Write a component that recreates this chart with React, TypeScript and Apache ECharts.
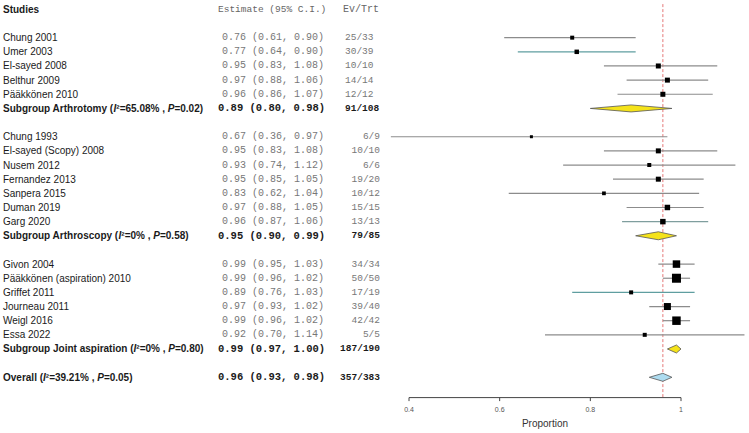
import React, { useEffect, useRef } from "react";
import * as echarts from "echarts";

// ---------- data ----------
const studyNames = [
  "Chung 2001", "Umer 2003", "El-sayed 2008", "Belthur 2009", "Pääkkönen 2010",
  "Chung 1993", "El-sayed (Scopy) 2008", "Nusem 2012", "Fernandez 2013", "Sanpera 2015", "Duman 2019", "Garg 2020",
  "Givon 2004", "Pääkkönen (aspiration) 2010", "Griffet 2011", "Journeau 2011", "Weigl 2016", "Essa 2022",
];
const studyGroup = [0, 0, 0, 0, 0, 1, 1, 1, 1, 1, 1, 1, 2, 2, 2, 2, 2, 2];
const studyEst = [0.76, 0.77, 0.95, 0.97, 0.96, 0.67, 0.95, 0.93, 0.95, 0.83, 0.97, 0.96, 0.99, 0.99, 0.89, 0.97, 0.99, 0.92];
const studyLo = [0.61, 0.64, 0.83, 0.88, 0.86, 0.36, 0.83, 0.74, 0.85, 0.62, 0.88, 0.87, 0.95, 0.96, 0.76, 0.93, 0.96, 0.70];
const studyHi = [0.90, 0.90, 1.08, 1.06, 1.07, 0.97, 1.08, 1.12, 1.05, 1.04, 1.05, 1.06, 1.03, 1.02, 1.03, 1.02, 1.02, 1.14];
const studyEvTrt = ["25/33", "30/39", "10/10", "14/14", "12/12", "6/9", "10/10", "6/6", "19/20", "10/12", "15/15", "13/13", "34/34", "50/50", "17/19", "39/40", "42/42", "5/5"];
const studyWeight = [16, 20, 25, 25, 25, 9, 25, 16, 25, 14, 30, 30, 56, 81, 16, 49, 72, 16];

const groupNames = ["Arthrotomy", "Arthroscopy", "Joint aspiration"];
const groupI2 = ["65.08%", "0%", "0%"];
const groupP = ["0.02", "0.58", "0.80"];
const groupEst = [0.89, 0.95, 0.99];
const groupLo = [0.80, 0.90, 0.97];
const groupHi = [0.98, 0.99, 1.00];
const groupEvTrt = ["91/108", "79/85", "187/190"];

const overallI2 = "39.21%";
const overallP = "0.05";
const overallEst = 0.96;
const overallLo = 0.93;
const overallHi = 0.98;
const overallEvTrt = "357/383";

const xTicks = [0.4, 0.6, 0.8, 1.0];

// ---------- layout helpers ----------
const NAME_FONT = '"Liberation Sans", Arial, sans-serif';
const MONO_FONT = '"Liberation Mono", "Courier New", monospace';
const lineColorFor = (i: number) => (i === 1 || i === 14 ? "#5f9ea0" : i === 11 ? "#7f9e9e" : "#8c8c8c");
const Y_BOTTOM = 27.4; // row position of the x axis
const Y_TOP = -0.45;   // row position of the grid top
const yOf = (row: number) => Y_BOTTOM - row; // rows run downwards, axis value 0 at bottom

type Row = {
  r: number;
  kind: "header" | "study" | "sub" | "overall";
  name: string;
  est?: number;
  lo?: number;
  hi?: number;
  ev?: string;
  group?: number;
  w?: number;
  idx?: number;
};

const fmt = (v: number) => v.toFixed(2);

function buildRows(): Row[] {
  const rows: Row[] = [{ r: 0, kind: "header", name: "Studies" }];
  let r = 2;
  groupNames.forEach((g, gi) => {
    studyNames.forEach((n, i) => {
      if (studyGroup[i] !== gi) return;
      rows.push({ r: r++, kind: "study", name: n, est: studyEst[i], lo: studyLo[i], hi: studyHi[i], ev: studyEvTrt[i], group: gi, w: studyWeight[i], idx: i });
    });
    rows.push({
      r: r++, kind: "sub",
      name: `Subgroup ${g} ({it|I}²=${groupI2[gi]} , {it|P}=${groupP[gi]})`,
      est: groupEst[gi], lo: groupLo[gi], hi: groupHi[gi], ev: groupEvTrt[gi], group: gi,
    });
    r++;
  });
  rows.push({
    r: r, kind: "overall",
    name: `Overall ({it|I}²=${overallI2} , {it|P}=${overallP})`,
    est: overallEst, lo: overallLo, hi: overallHi, ev: overallEvTrt, group: 3,
  });
  return rows;
}

export default function App() {
  const ref = useRef<HTMLDivElement>(null);

  useEffect(() => {
    if (!ref.current) return;
    const chart = echarts.init(ref.current, undefined, { renderer: "svg" });
    const rows = buildRows();
    const studyRows = rows.filter((d) => d.kind === "study");
    const diaRows = rows.filter((d) => d.kind === "sub" || d.kind === "overall");

    const textSeries = {
      type: "custom",
      clip: false,
      silent: true,
      data: rows.map((d) => [0.4, yOf(d.r)]),
      renderItem: (params: any, api: any) => {
        const d = rows[params.dataIndex];
        const y = api.coord([0.4, api.value(1)])[1];
        const children: any[] = [];
        if (d.kind === "header") {
          children.push({ type: "text", x: 3, y, style: { text: "Studies", fill: "#1a1a1a", fontFamily: NAME_FONT, fontSize: 10, fontWeight: "bold", verticalAlign: "middle", align: "left" } });
          children.push({ type: "text", x: 218, y, style: { text: "Estimate (95% C.I.)", fill: "#666", fontFamily: MONO_FONT, fontSize: 9.5, verticalAlign: "middle", align: "left" } });
          children.push({ type: "text", x: 343, y, style: { text: "Ev/Trt", fill: "#666", fontFamily: MONO_FONT, fontSize: 10, verticalAlign: "middle", align: "left" } });
        } else {
          const bold = d.kind !== "study";
          const estText = `${fmt(d.est!)} (${fmt(d.lo!)}, ${fmt(d.hi!)})`;
          children.push({
            type: "text", x: 3, y,
            style: {
              text: d.name, fill: "#1a1a1a", fontFamily: NAME_FONT, fontSize: 10,
              fontWeight: bold ? "bold" : "normal", verticalAlign: "middle", align: "left",
              rich: { it: { fontStyle: "italic", fontWeight: "bold", fontFamily: NAME_FONT, fontSize: 10, fill: "#1a1a1a" } },
            },
          });
          children.push({
            type: "text", x: bold ? 218 : 222, y,
            style: { text: estText, fill: bold ? "#1a1a1a" : "#777", fontFamily: MONO_FONT, fontSize: bold ? 10.5 : 10, fontWeight: bold ? "bold" : "normal", verticalAlign: "middle", align: "left" },
          });
          const leftAligned = d.group === 0;
          children.push({
            type: "text", x: leftAligned ? 345 : 380, y,
            style: { text: d.ev, fill: bold ? "#1a1a1a" : "#777", fontFamily: MONO_FONT, fontSize: 9.5, fontWeight: bold ? "bold" : "normal", verticalAlign: "middle", align: leftAligned ? "left" : "right" },
          });
        }
        return { type: "group", children };
      },
    };

    // x axis line + ticks, drawn through the axis scale
    const axisSeries = {
      type: "custom",
      clip: false,
      silent: true,
      z: 2,
      data: [[overallEst, 0]],
      renderItem: (params: any, api: any) => {
        const a = api.coord([api.value(0), 0]);
        const b = api.coord([api.value(0), Y_BOTTOM - Y_TOP]);
        const l = api.coord([xTicks[0], 0]);
        const r = api.coord([xTicks[xTicks.length - 1], 0]);
        const children: any[] = [
          { type: "line", shape: { x1: a[0], y1: a[1], x2: b[0], y2: b[1] }, style: { stroke: "#e06060", lineWidth: 1, lineDash: [3, 2], opacity: 0.85 } },
          { type: "line", shape: { x1: l[0], y1: l[1] + 0.5, x2: r[0], y2: r[1] + 0.5 }, style: { stroke: "#444", lineWidth: 1 } },
        ];
        xTicks.forEach((t) => {
          const p = api.coord([t, 0]);
          children.push({ type: "line", shape: { x1: p[0], y1: p[1] + 0.5, x2: p[0], y2: p[1] + 4 }, style: { stroke: "#444", lineWidth: 1 } });
        });
        return { type: "group", children };
      },
    };

    const ciSeries = {
      type: "custom",
      clip: false,
      silent: true,
      z: 3,
      data: studyRows.map((d) => [d.est, yOf(d.r), d.lo, d.hi, d.w]),
      renderItem: (params: any, api: any) => {
        const d = studyRows[params.dataIndex];
        const p = api.coord([api.value(0), api.value(1)]);
        const a = api.coord([api.value(2), api.value(1)]);
        const b = api.coord([api.value(3), api.value(1)]);
        const s = Math.sqrt(api.value(4));
        const col = lineColorFor(d.idx!);
        return {
          type: "group",
          children: [
            { type: "line", shape: { x1: a[0], y1: a[1], x2: b[0], y2: b[1] }, style: { stroke: col, lineWidth: 1.2 } },
            { type: "rect", shape: { x: p[0] - s / 2, y: p[1] - s / 2, width: s, height: s }, style: { fill: "#000" } },
          ],
        };
      },
    };

    const diamondSeries = {
      type: "custom",
      clip: false,
      silent: true,
      z: 4,
      data: diaRows.map((d) => [d.est, yOf(d.r), d.lo, d.hi]),
      renderItem: (params: any, api: any) => {
        const d = diaRows[params.dataIndex];
        const p = api.coord([api.value(0), api.value(1)]);
        const a = api.coord([api.value(2), api.value(1)]);
        const b = api.coord([api.value(3), api.value(1)]);
        const h = d.kind === "sub" && d.group === 0 ? 3.5 : 4;
        return {
          type: "polygon",
          shape: { points: [[a[0], p[1]], [p[0], p[1] - h], [b[0], p[1]], [p[0], p[1] + h]] },
          style: { fill: d.kind === "overall" ? "#aedcf0" : "#f5e31a", stroke: "#555", lineWidth: 0.8 },
        };
      },
    };

    chart.setOption({
      animation: false,
      grid: { left: 409, right: 68, top: 3, bottom: 34 },
      xAxis: {
        type: "value",
        position: "bottom",
        min: xTicks[0],
        max: xTicks[xTicks.length - 1],
        interval: 0.2,
        name: "Proportion",
        nameLocation: "middle",
        nameGap: 19,
        nameTextStyle: { fontFamily: NAME_FONT, fontSize: 10, color: "#333" },
        axisLine: { show: false },
        axisTick: { show: false },
        axisLabel: { fontFamily: NAME_FONT, fontSize: 7, color: "#555", margin: 9, formatter: (v: number) => (Math.abs(v - 1) < 1e-9 ? "1" : v.toFixed(1)) },
        splitLine: { show: false },
      },
      yAxis: { type: "value", min: 0, max: Y_BOTTOM - Y_TOP, show: false },
      series: [axisSeries, textSeries, ciSeries, diamondSeries],
    });

    return () => chart.dispose();
  }, []);

  return <div ref={ref} style={{ position: "fixed", left: 0, top: 0, width: 749, height: 433, background: "#fff" }} />;
}
